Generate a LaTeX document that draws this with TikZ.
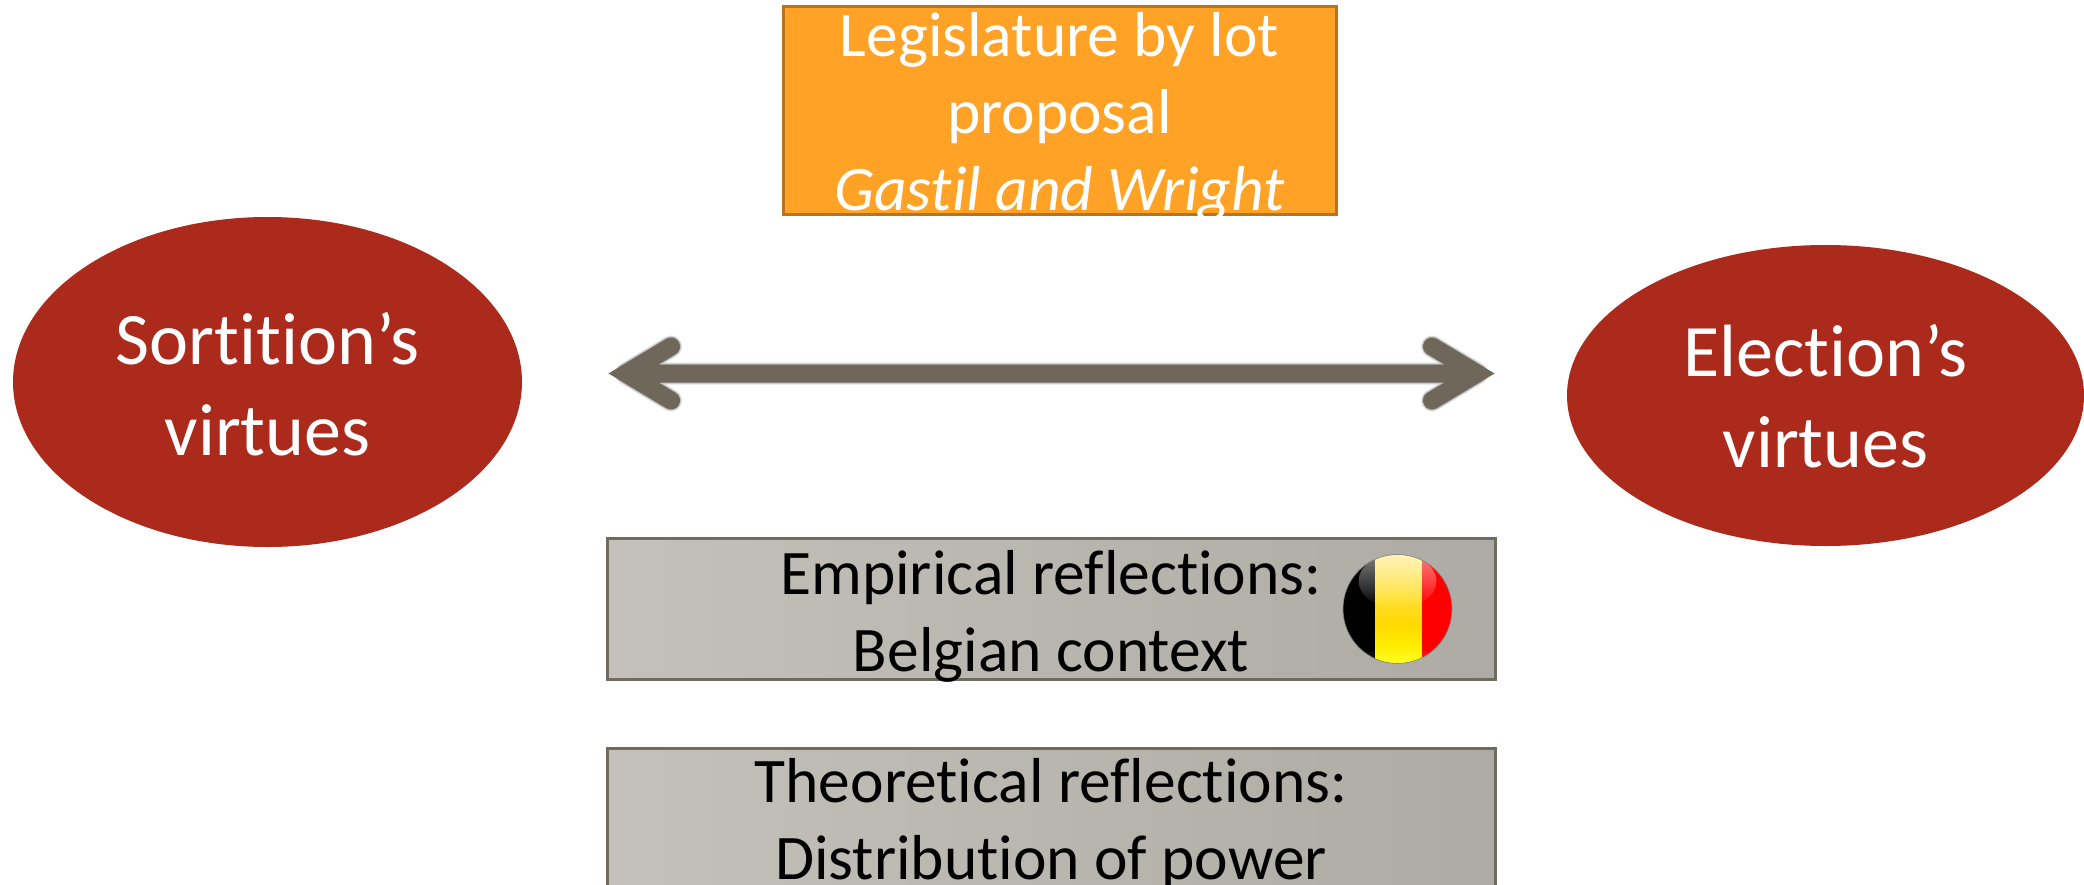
\documentclass[tikz,border=0pt]{standalone}
\usepackage{fontspec}
\setmainfont[Ligatures=NoCommon]{Carlito}
\usetikzlibrary{shapes.geometric,fadings}

\newcommand{\twohead}{(arrowL) -- (arrowR)
  ([shift={(45,-27)}]arrowL) -- (arrowL) -- ([shift={(45,27)}]arrowL)
  ([shift={(-45,-27)}]arrowR) -- (arrowR) -- ([shift={(-45,27)}]arrowR)}

\begin{document}
\begin{tikzpicture}[x=1pt,y=-1pt,
    virtue/.style={ellipse,fill=virtuered,text=white,align=center,inner sep=0pt,
      text height=150pt,text depth=4pt,
      minimum width=509pt,minimum height=330pt,font=\fontsize{74}{91}\selectfont},
    greybox/.style={rectangle,draw=edgegrey,line width=3pt,left color=boxlight,right color=boxdark,
      text height=130pt,text depth=4pt,
      align=center,inner sep=0pt,minimum width=888pt,font=\fontsize{63.5}{77}\selectfont},
    propbox/.style={rectangle,draw=propedge,fill=proporange,line width=3pt,text=white,
      text height=203pt,text depth=3pt,
      align=center,inner sep=0pt,minimum width=553pt,minimum height=208pt,font=\fontsize{63.5}{77}\selectfont},
    arrowline/.style={draw=arrowgrey,line width=18pt,line cap=round,line join=miter},
    arrowshade/.style={draw=black,line cap=round,line join=round,opacity=0.13}]
  \definecolor{virtuered}{HTML}{AB2A1C}
  \definecolor{boxlight}{HTML}{C4C0BA}
  \definecolor{boxdark}{HTML}{AEABA5}
  \definecolor{edgegrey}{HTML}{716B5E}
  \definecolor{proporange}{HTML}{FFA226}
  \definecolor{propedge}{HTML}{B9731F}
  \definecolor{arrowgrey}{HTML}{6F6759}
  \definecolor{flagtop}{HTML}{FFE870}
  \definecolor{flagmid}{HTML}{FFD900}
  \path[use as bounding box,clip] (0,0) rectangle (2084,885);

  \node[propbox] (lot) at (1059.5,110.5) {Legislature by lot\\proposal\\\textit{Gastil and Wright}};
  \node[virtue] (sortition) at (267.5,382) {Sortition’s\\virtues};
  \node[virtue,text depth=6pt,minimum width=517pt,minimum height=301pt] (election) at (1825.5,395.5) {Election’s\\virtues};

  \coordinate (arrowL) at (626,373.5);
  \coordinate (arrowR) at (1477,373.5);
  \foreach \w in {22,20,18,16} {
    \draw[arrowshade,line width=\w pt,shift={(4,5)}] \twohead;
  }
  \draw[arrowline] \twohead;

  \node[greybox,minimum height=141pt] (empirical) at (1051,608.5) {Empirical reflections:\\Belgian context};
  \node[greybox,text height=125pt,text depth=3pt,minimum height=141pt,anchor=north] (theoretical) at (1051,746.5) {Theoretical reflections:\\Distribution of power};

  % flag
  \node[circle,minimum size=109pt,inner sep=0pt] (flag) at (1397.5,609) {};
  \begin{scope}
    \clip (flag) circle (54.5);
    \fill[black] (1343,555) rectangle (1375,664);
    \shade[top color=flagtop,bottom color=flagmid] (1375,555) rectangle (1422,625);
    \shade[top color=flagmid,bottom color=yellow] (1375,625) rectangle (1422,664);
    \fill[red] (1422,555) rectangle (1452,664);
    \fill[white,fill opacity=0.5,path fading=south] (1397.5,581) ellipse (39 and 27);
    \fill[white,fill opacity=0.35,path fading=north] (1397.5,668) ellipse (42 and 22);
  \end{scope}
  \draw[gray,line width=0.6pt] (flag) circle (54.5);
\end{tikzpicture}
\end{document}
